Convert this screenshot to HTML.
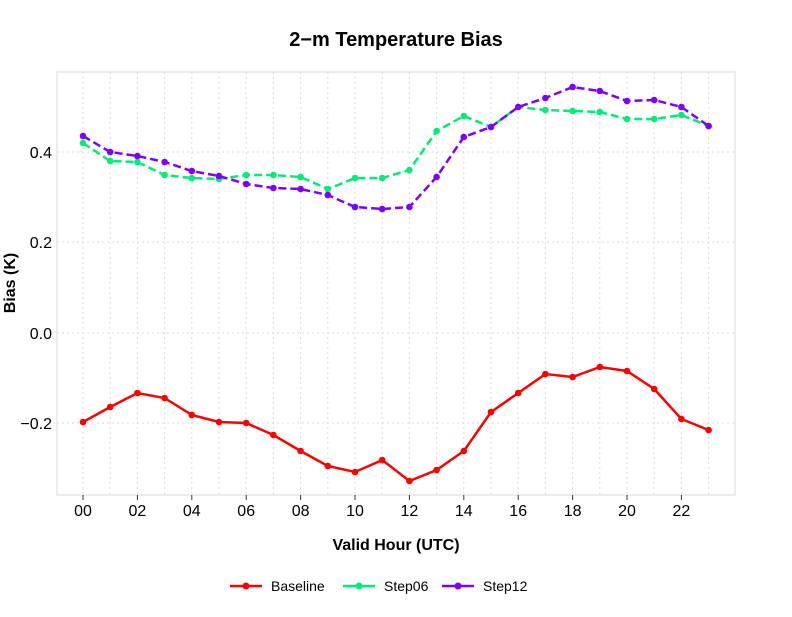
<!DOCTYPE html>
<html><head><meta charset="utf-8"><style>body{margin:0;background:#fff}svg{font-family:"Liberation Sans",sans-serif}</style></head><body>
<svg id="s" width="792" height="612" xmlns="http://www.w3.org/2000/svg">
<rect width="792" height="612" fill="#fff"/>
<text x="396" y="46" text-anchor="middle" font-size="20" font-weight="bold">2−m Temperature Bias</text>
<rect x="57" y="72" width="678" height="423" fill="none" stroke="#d9d9d9" stroke-width="1"/>
<g id="g"></g>
<text x="396" y="550" text-anchor="middle" font-size="16" font-weight="bold">Valid Hour (UTC)</text>
<text transform="translate(15,283) rotate(-90)" text-anchor="middle" font-size="16" font-weight="bold">Bias (K)</text>
<g font-size="14">
<line x1="230" y1="586" x2="262" y2="586" stroke="#ff0000" stroke-width="2.5"/><circle cx="246" cy="586" r="3.5" fill="#ff0000"/><text x="271" y="591">Baseline</text>
<line x1="343" y1="586" x2="375" y2="586" stroke="#00ee76" stroke-width="2.5"/><circle cx="359" cy="586" r="3.5" fill="#00ee76"/><text x="384" y="591">Step06</text>
<line x1="442" y1="586" x2="474" y2="586" stroke="#7f00ff" stroke-width="2.5"/><circle cx="458" cy="586" r="3.5" fill="#7f00ff"/><text x="483" y="591">Step12</text>
</g>
</svg>
<script>
var g=document.getElementById('g'),h='';
function X(i){return 83+i*27.2}
for(var i=0;i<24;i++)h+='<line x1="'+X(i)+'" y1="72" x2="'+X(i)+'" y2="495" stroke="#ddd" stroke-dasharray="2,3"/>';
[[152,'0.4'],[242,'0.2'],[333,'0.0'],[423,'−0.2']].forEach(function(t){h+='<line x1="57" y1="'+t[0]+'" x2="735" y2="'+t[0]+'" stroke="#ddd" stroke-dasharray="2,3"/><text x="52" y="'+(t[0]+6)+'" text-anchor="end" font-size="16">'+t[1]+'</text>'});
for(var i=0;i<24;i+=2){h+='<line x1="'+X(i)+'" y1="495" x2="'+X(i)+'" y2="500" stroke="#333"/><text x="'+X(i)+'" y="516" text-anchor="middle" font-size="16">'+(i<10?'0'+i:i)+'</text>'}
var S=[['#00ee76',[143,161,162,175,178,179,175,175,177,189,178,178,170,131,116,127,107,110,111,112,119,119,115,126],'8,4'],
['#7f00ff',[136,152,156,162,171,176,184,188,189,195,207,209,207,177,137,127,107,98,87,91,101,100,107,126],'8,4'],
['#ff0000',[422,407,393,398,415,422,423,435,451,466,472,460,481,470,451,412,393,374,377,367,371,389,419,430],'']];
S.forEach(function(s){var p=s[1].map(function(y,i){return X(i)+','+y}).join(' ');
h+='<polyline points="'+p+'" fill="none" stroke="'+s[0]+'" stroke-width="2.5" stroke-dasharray="'+s[2]+'"/>';
s[1].forEach(function(y,i){h+='<circle cx="'+X(i)+'" cy="'+y+'" r="3.3" fill="'+s[0]+'"/>'})});
g.innerHTML=h;
</script>
</body></html>
